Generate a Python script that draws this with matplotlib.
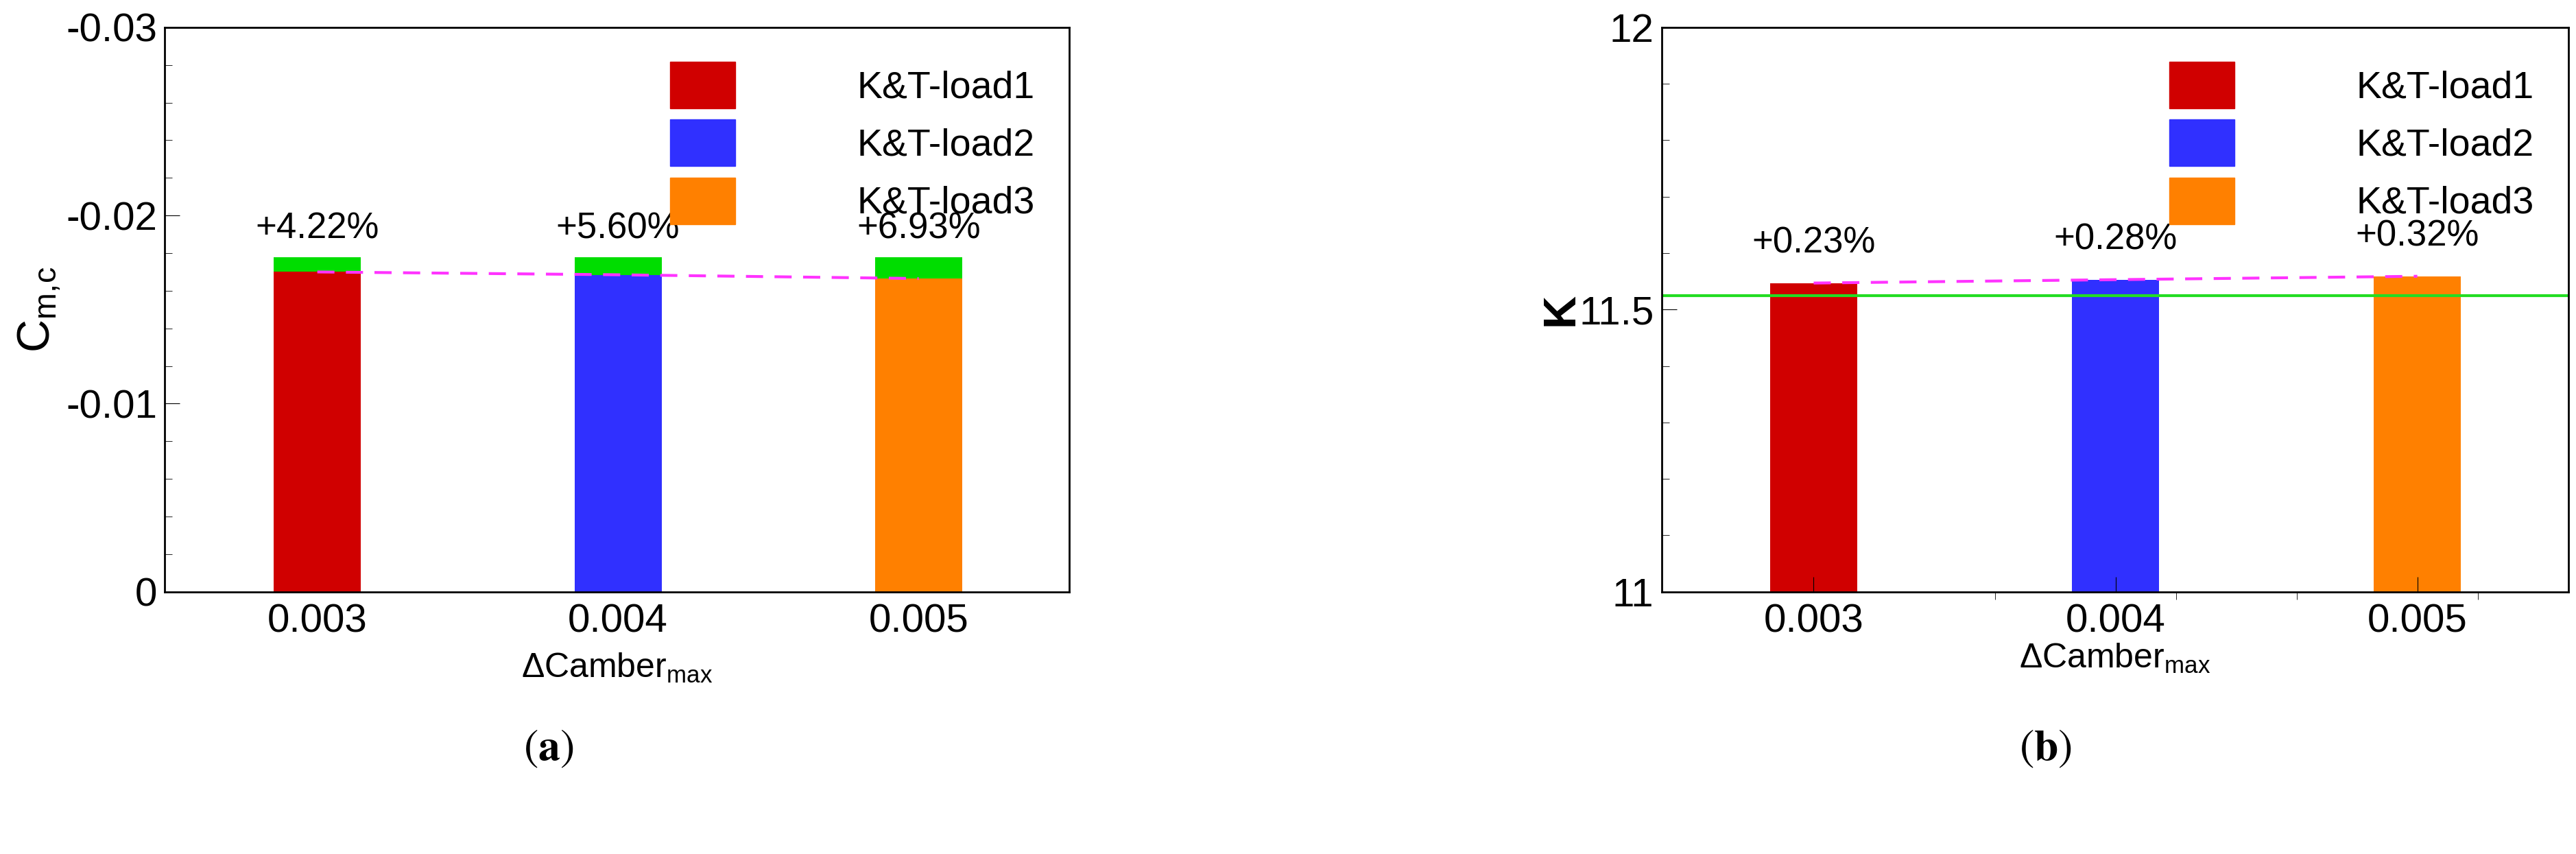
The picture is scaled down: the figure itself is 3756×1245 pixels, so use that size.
import matplotlib.pyplot as plt
from matplotlib.patches import Patch
from matplotlib.ticker import MultipleLocator, FixedLocator

plt.rcParams['font.family'] = ['Liberation Sans', 'DejaVu Sans']
plt.rcParams['mathtext.fontset'] = 'custom'
plt.rcParams['mathtext.rm'] = 'Liberation Sans'
plt.rcParams['mathtext.it'] = 'Liberation Sans'

camber = [0.003, 0.004, 0.005]
tick_labels = ['0.003', '0.004', '0.005']
names = ['K&T-load1', 'K&T-load2', 'K&T-load3']
colors = ['#d00000', '#3030ff', '#ff8000']

cm_base = [-0.01700, -0.01685, -0.01665]
cm_top = [-0.01780, -0.01780, -0.01780]
cm_pct = ['+4.22%', '+5.60%', '+6.93%']

k_vals = [11.547, 11.553, 11.559]
k_ref = 11.525
k_pct = ['+0.23%', '+0.28%', '+0.32%']

W, H = 3756, 1245
fig = plt.figure(figsize=(W / 100, H / 100), dpi=100)
ax1 = fig.add_axes([0.064, 0.307, 0.351, 0.661])
ax2 = fig.add_axes([0.645, 0.307, 0.352, 0.661])
bw = 0.00029
fs = 42

# (a)
for x, b, t, c, p in zip(camber, cm_base, cm_top, colors, cm_pct):
    ax1.bar(x, b, width=bw, color=c)
    ax1.bar(x, t - b, bottom=b, width=bw, color='#00dd00')
    ax1.text(x, t - 0.0006, p, ha='center', va='bottom', fontsize=fs - 4)
ax1.plot(camber, cm_base, '--', color='#ff33ff', lw=3, dashes=(6, 4))
ax1.set_ylim(0, -0.03)
ax1.set_xlim(0.002493, 0.0055)
ax1.set_yticks([0, -0.01, -0.02, -0.03])
ax1.set_yticklabels(['0', '-0.01', '-0.02', '-0.03'])
ax1.yaxis.set_minor_locator(MultipleLocator(0.002))
ax1.set_xticks(camber)
ax1.set_xticklabels(tick_labels)
ax1.tick_params(axis='x', length=0, labelsize=fs, pad=12)
ax1.set_ylabel(r'C$_{\mathrm{m,\!c}}$', fontsize=fs + 6, labelpad=4)
ax1.set_xlabel(r'$\Delta$Camber$_{\rm max}$', fontsize=fs - 6, labelpad=12)

# (b)
for x, v, c, p in zip(camber, k_vals, colors, k_pct):
    ax2.bar(x, v - 11, bottom=11, width=bw, color=c)
    ax2.text(x, v + 0.04, p, ha='center', va='bottom', fontsize=fs - 4)
ax2.plot(camber, k_vals, '--', color='#ff33ff', lw=3, dashes=(6, 4))
ax2.axhline(k_ref, color='#22dd22', lw=3)
ax2.set_ylim(11, 12)
ax2.set_xlim(0.002496, 0.0055)
ax2.set_yticks([11, 11.5, 12])
ax2.set_yticklabels(['11', '11.5', '12'])
ax2.yaxis.set_minor_locator(MultipleLocator(0.1))
ax2.set_xticks(camber)
ax2.set_xticklabels(tick_labels)
ax2.xaxis.set_minor_locator(FixedLocator([0.0036, 0.0042, 0.0046, 0.0052]))
ax2.tick_params(axis='x', which='major', length=16, pad=12, labelsize=fs)
ax2.tick_params(axis='x', which='minor', length=8)
ax2.set_ylabel('K', fontsize=fs + 6, fontweight='bold', labelpad=-4)
ax2.set_xlabel(r'$\Delta$Camber$_{\rm max}$', fontsize=fs - 6, labelpad=2)

for ax in (ax1, ax2):
    ax.tick_params(axis='y', which='major', direction='in', length=16, labelsize=fs, pad=8)
    ax.tick_params(axis='y', which='minor', direction='in', length=8)
    ax.tick_params(axis='x', direction='in')
    for s in ax.spines.values():
        s.set_linewidth(2)
    handles = [Patch(color=c, label=n) for c, n in zip(colors, names)]
    ax.legend(handles=handles, loc='upper right', frameon=False, fontsize=fs - 2,
              handlelength=1.7, handleheight=1.5, handletextpad=3.2,
              labelspacing=0.3, borderaxespad=0.5)

plt.rcParams['mathtext.fontset'] = 'stix'
fig.text(0.213, 0.11, r'($\mathbf{a}$)', fontsize=46, family='STIXGeneral', ha='center')
fig.text(0.794, 0.11, r'($\mathbf{b}$)', fontsize=46, family='STIXGeneral', ha='center')

fig.savefig('out.png', dpi=100)
